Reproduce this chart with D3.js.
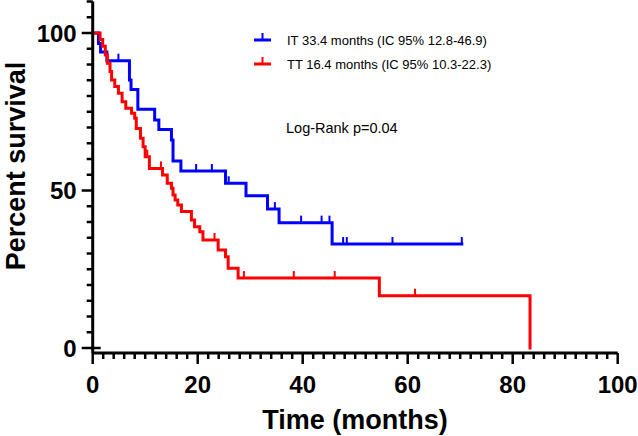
<!DOCTYPE html>
<html>
<head>
<meta charset="utf-8">
<script src="https://cdn.jsdelivr.net/npm/d3@7"></script>
<style>
  html, body { margin: 0; padding: 0; background: #fff; }
  svg { display: block; }
  text { font-family: "Liberation Sans", Arial, sans-serif; }
</style>
</head>
<body>
<svg id="chart" width="638" height="436"></svg>
<script>
// ---- Data ----
const itTimes = [0, 1.1, 1.5, 2.7, 7.0, 7.3, 8.6, 11.8, 12.6, 15.0, 15.3, 16.8, 25.3, 29.2, 33.3, 35.5, 45.6, 70.3];
const itSurv  = [100, 96.7, 94.0, 91.2, 85.1, 82.1, 75.8, 72.4, 69.4, 66.0, 59.4, 56.2, 52.3, 48.3, 44.1, 39.8, 33.0, 33.0];
const itCensor = [4.9, 19.7, 22.7, 25.9, 34.7, 39.7, 43.6, 45.1, 47.7, 48.4, 57.1, 70.3];

const ttTimes = [0, 1.4, 1.9, 2.4, 2.8, 3.3, 3.6, 4.2, 4.9, 5.6, 6.3, 7.4, 8.0, 8.3, 9.1, 9.6, 10.0, 10.8, 13.3, 14.2, 15.0, 15.3, 15.7, 16.2, 16.9, 18.8, 19.4, 20.4, 21.0, 23.9, 25.3, 25.8, 27.7, 54.6, 83.3];
const ttSurv  = [100, 97.9, 95.8, 93.0, 90.4, 87.8, 85.1, 83.0, 80.9, 78.2, 76.1, 74.5, 72.9, 69.7, 66.6, 63.9, 60.7, 57.0, 54.9, 52.3, 50.7, 48.6, 47.0, 45.4, 43.3, 40.6, 38.5, 36.9, 34.3, 31.1, 29.0, 25.3, 22.2, 16.6, 0];
const ttCensor = [10.4, 13.0, 23.2, 28.8, 38.3, 46.1, 61.4];

const xTickLabels = [0, 20, 40, 60, 80, 100];
const yTickLabels = [0, 50, 100];
const legendLabels = ["IT 33.4 months (IC 95% 12.8-46.9)", "TT 16.4 months (IC 95% 10.3-22.3)"];
const annotation = "Log-Rank p=0.04";
const xTitle = "Time (months)";
const yTitle = "Percent survival";

// ---- Layout ----
const svg = d3.select("#chart");
svg.append("rect").attr("width", 638).attr("height", 436).attr("fill", "#fff");

const x = d3.scaleLinear().domain([0, 100]).range([92.7, 617.7]);
const y = d3.scaleLinear().domain([0, 100]).range([348, 33]);
const xAxisY = 353;
const axisX = 92.7;

const series = [
  { times: itTimes, surv: itSurv, censor: itCensor, color: "#0000FF" },
  { times: ttTimes, surv: ttSurv, censor: ttCensor, color: "#FF0000" }
];

function survAt(s, t) {
  let v = s.surv[0];
  for (let i = 0; i < s.times.length; i++) { if (s.times[i] <= t) v = s.surv[i]; }
  return v;
}

const line = d3.line().x(d => x(d[0])).y(d => y(d[1])).curve(d3.curveStepAfter);

// draw curves
series.forEach(s => {
  const pts = s.times.map((t, i) => [t, s.surv[i]]);
  svg.append("path").attr("d", line(pts)).attr("fill", "none")
    .attr("stroke", s.color).attr("stroke-width", 3).attr("stroke-linejoin", "miter").attr("stroke-linecap", "square");
  svg.selectAll(null).data(s.censor).enter().append("line")
    .attr("x1", d => x(d)).attr("x2", d => x(d))
    .attr("y1", d => y(survAt(s, d)))
    .attr("y2", d => y(survAt(s, d)) - 7)
    .attr("stroke", s.color).attr("stroke-width", 2);
});

// ---- Axes ----
const axisG = svg.append("g");
// y axis line
axisG.append("line").attr("x1", axisX).attr("x2", axisX).attr("y1", y(110)).attr("y2", xAxisY)
  .attr("stroke", "#000").attr("stroke-width", 3);
// y ticks
const yMinor = d3.range(0, 111, 5);
axisG.selectAll(null).data(yMinor).enter().append("line")
  .attr("x1", d => yTickLabels.includes(d) ? axisX - 11 : axisX - 6)
  .attr("x2", d => d === 0 ? axisX + 8 : axisX)
  .attr("y1", d => y(d)).attr("y2", d => y(d))
  .attr("stroke", "#000").attr("stroke-width", 2.5);
axisG.selectAll(null).data(yTickLabels).enter().append("text")
  .attr("x", axisX - 16).attr("y", d => y(d) + 8.5)
  .attr("text-anchor", "end").attr("font-size", 24).attr("font-weight", "bold")
  .text(d => d);

// x axis line
axisG.append("line").attr("x1", axisX).attr("x2", x(100)).attr("y1", xAxisY).attr("y2", xAxisY)
  .attr("stroke", "#000").attr("stroke-width", 3);
const xMinor = d3.range(0, 101, 2);
axisG.selectAll(null).data(xMinor).enter().append("line")
  .attr("x1", d => x(d)).attr("x2", d => x(d))
  .attr("y1", xAxisY)
  .attr("y2", d => xTickLabels.includes(d) ? xAxisY + 11 : xAxisY + 6)
  .attr("stroke", "#000").attr("stroke-width", 2.5);
axisG.selectAll(null).data(xTickLabels).enter().append("text")
  .attr("x", d => x(d)).attr("y", 392.5)
  .attr("text-anchor", "middle").attr("font-size", 24).attr("font-weight", "bold")
  .text(d => d);

// titles
svg.append("text").attr("x", 355).attr("y", 429).attr("text-anchor", "middle")
  .attr("font-size", 27).attr("font-weight", "bold").text(xTitle);
svg.append("text").attr("transform", "translate(25,166) rotate(-90)").attr("text-anchor", "middle")
  .attr("font-size", 27).attr("font-weight", "bold").text(yTitle);

// legend
const legY = [40, 64];
series.forEach((s, i) => {
  const g = svg.append("g");
  g.append("line").attr("x1", 254).attr("x2", 271).attr("y1", legY[i]).attr("y2", legY[i])
    .attr("stroke", s.color).attr("stroke-width", 3);
  g.append("line").attr("x1", 262.5).attr("x2", 262.5).attr("y1", legY[i]).attr("y2", legY[i] - 7)
    .attr("stroke", s.color).attr("stroke-width", 2);
  g.append("text").attr("x", 287).attr("y", legY[i] + 5).attr("font-size", 13).attr("fill", "#000")
    .text(legendLabels[i]);
});

svg.append("text").attr("x", 286).attr("y", 133).attr("font-size", 14.5).attr("fill", "#000").text(annotation);
</script>
</body>
</html>
